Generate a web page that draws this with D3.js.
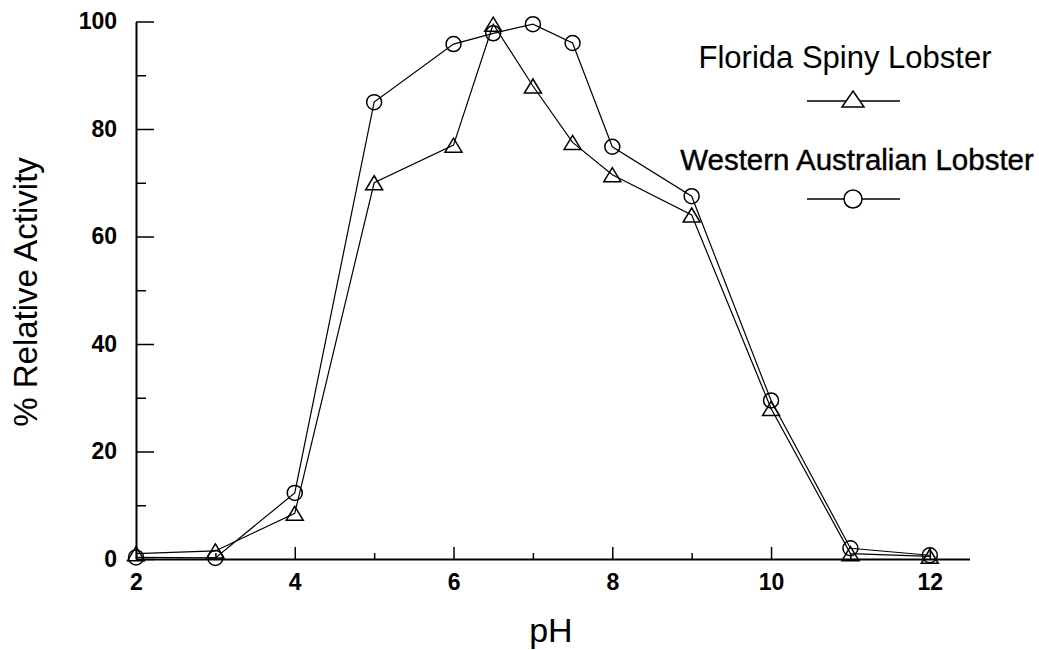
<!DOCTYPE html>
<html>
<head>
<meta charset="utf-8">
<script src="https://cdn.jsdelivr.net/npm/d3@7"></script>
<style>
  html, body { margin: 0; padding: 0; background: #fff; }
  svg { display: block; }
  text { font-family: "Liberation Sans", Arial, Helvetica, sans-serif; fill: #000; }
</style>
</head>
<body>
<svg id="chart" width="1039" height="650"></svg>
<script>
// pH at which activity was measured
const ph = [2, 3, 4, 5, 6, 6.5, 7, 7.5, 8, 9, 10, 11, 12];
// % relative activity, Florida spiny lobster
const florida = [1, 1.5, 8.5, 70, 77, 99.5, 88, 77.5, 71.5, 64, 28, 1, 0.5];
// % relative activity, Western Australian lobster
const western = [0.3, 0.2, 12.3, 85, 95.8, 97.8, 99.5, 96, 76.7, 67.5, 29.5, 2, 0.7];

const xTicks = [2, 4, 6, 8, 10, 12];
const xMinorTicks = [3, 5, 7, 9, 11];
const yTicks = [0, 20, 40, 60, 80, 100];
const yMinorTicks = [10, 30, 50, 70, 90];

const seriesNames = ["Florida Spiny Lobster", "Western Australian Lobster"];

const svg = d3.select("#chart");

const x = d3.scaleLinear().domain([2, 12.5]).range([136, 969.5]);
const y = d3.scaleLinear().domain([0, 100]).range([559, 21.5]);

// ---- axes ----
const yAxis = d3.axisLeft(y).tickValues(yTicks).tickSizeInner(-18).tickSizeOuter(0).tickPadding(19);
const yMinor = d3.axisLeft(y).tickValues(yMinorTicks).tickSizeInner(-10).tickSizeOuter(0).tickFormat("");
const xAxis = d3.axisBottom(x).tickValues(xTicks).tickSizeInner(-12).tickSizeOuter(0).tickPadding(15);
const xMinor = d3.axisBottom(x).tickValues(xMinorTicks).tickSizeInner(-6).tickSizeOuter(0).tickFormat("");

function styleAxis(g) {
  g.select(".domain").attr("stroke", "#000").attr("stroke-width", 2);
  g.selectAll(".tick line").attr("stroke", "#000").attr("stroke-width", 1.5);
  g.selectAll(".tick text")
    .attr("font-family", "'Liberation Sans', Arial, sans-serif")
    .attr("font-weight", "bold")
    .attr("font-size", 23)
    .attr("fill", "#000");
}

svg.append("g").attr("transform", `translate(${x(2)},0)`).call(yAxis).call(styleAxis);
svg.append("g").attr("transform", `translate(${x(2)},0)`).call(yMinor).call(styleAxis)
  .select(".domain").remove();
svg.append("g").attr("transform", `translate(0,${y(0)})`).call(xAxis).call(styleAxis);
svg.append("g").attr("transform", `translate(0,${y(0)})`).call(xMinor).call(styleAxis)
  .select(".domain").remove();

// ---- axis titles ----
svg.append("text")
  .attr("x", (x(2) + x(12)) / 2 + 18)
  .attr("y", 642)
  .attr("text-anchor", "middle")
  .attr("font-size", 34)
  .text("pH");

svg.append("text")
  .attr("transform", `translate(37,${292}) rotate(-90)`)
  .attr("text-anchor", "middle")
  .attr("font-size", 33)
  .text("% Relative Activity");

// ---- markers ----
function trianglePath(w, h) {
  return `M0,${-h / 2}L${w / 2},${h / 2}L${-w / 2},${h / 2}Z`;
}

const line = d3.line().x(d => x(d[0])).y(d => y(d[1]));

const floridaPts = ph.map((p, i) => [p, florida[i]]);
const westernPts = ph.map((p, i) => [p, western[i]]);

svg.append("path").datum(westernPts)
  .attr("d", line).attr("fill", "none").attr("stroke", "#000").attr("stroke-width", 1.2);
svg.append("path").datum(floridaPts)
  .attr("d", line).attr("fill", "none").attr("stroke", "#000").attr("stroke-width", 1.2);

svg.append("g").selectAll("circle").data(westernPts).join("circle")
  .attr("cx", d => x(d[0])).attr("cy", d => y(d[1])).attr("r", 7.5)
  .attr("fill", "none").attr("stroke", "#000").attr("stroke-width", 1.5);

svg.append("g").selectAll("path").data(floridaPts).join("path")
  .attr("transform", d => `translate(${x(d[0])},${y(d[1])})`)
  .attr("d", trianglePath(17, 14))
  .attr("fill", "none").attr("stroke", "#000").attr("stroke-width", 1.5);

// ---- legend ----
const legend = svg.append("g");
legend.append("text").attr("x", 845).attr("y", 68).attr("text-anchor", "middle")
  .attr("font-size", 31).text(seriesNames[0]);
legend.append("line").attr("x1", 807).attr("x2", 900).attr("y1", 101).attr("y2", 101)
  .attr("stroke", "#000").attr("stroke-width", 1.5);
legend.append("path").attr("transform", "translate(853,99)").attr("d", trianglePath(22, 16))
  .attr("fill", "#fff").attr("stroke", "#000").attr("stroke-width", 1.5);

legend.append("text").attr("x", 857).attr("y", 170).attr("text-anchor", "middle")
  .attr("font-size", 29.5).attr("stroke", "#000").attr("stroke-width", 0.4)
  .text(seriesNames[1]);
legend.append("line").attr("x1", 807).attr("x2", 900).attr("y1", 199).attr("y2", 199)
  .attr("stroke", "#000").attr("stroke-width", 1.5);
legend.append("circle").attr("cx", 853).attr("cy", 199).attr("r", 9)
  .attr("fill", "#fff").attr("stroke", "#000").attr("stroke-width", 1.5);
</script>
</body>
</html>
